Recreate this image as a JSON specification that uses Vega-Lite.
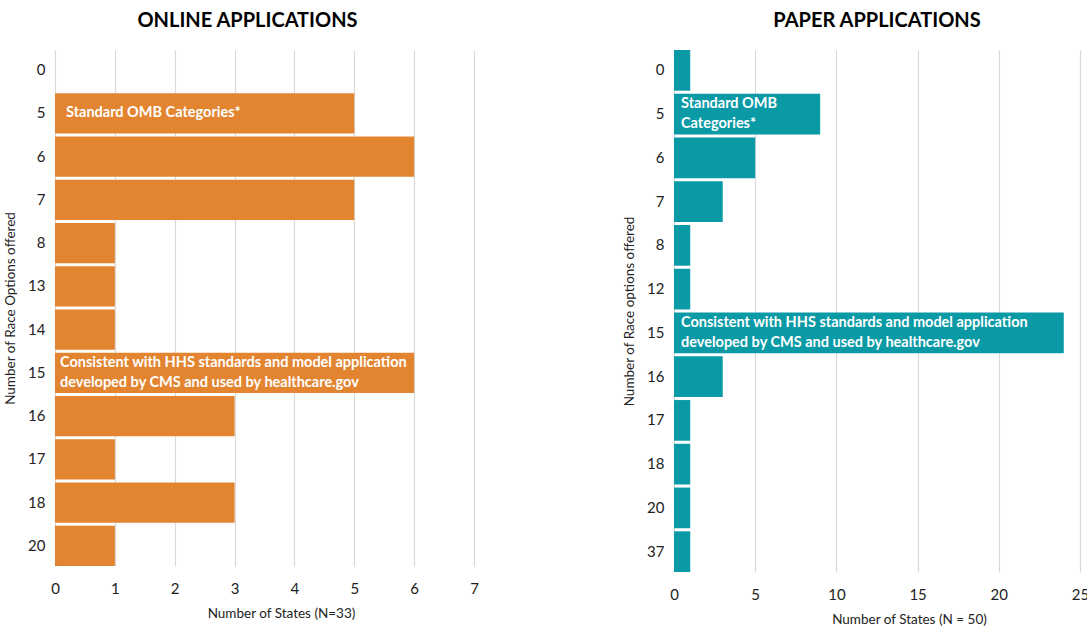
{
  "$schema": "https://vega.github.io/schema/vega-lite/v6.json",
  "background": "white",
  "padding": {"left": 3, "top": 11, "right": 5, "bottom": 5},
  "spacing": 143,
  "config": {
    "font": "Lato",
    "view": {"stroke": null},
    "title": {"font": "Lato", "fontSize": 20, "fontWeight": "bold", "color": "#000000", "offset": 19, "anchor": "middle"},
    "axis": {"labelFont": "Lato", "titleFont": "Lato", "labelColor": "#222222", "titleColor": "#222222", "titleFontWeight": "normal", "labelFlush": false}
  },
  "datasets": {
    "online": [
      {"opt": 0, "states": 0},
      {"opt": 5, "states": 5, "note": "Standard OMB Categories*"},
      {"opt": 6, "states": 6},
      {"opt": 7, "states": 5},
      {"opt": 8, "states": 1},
      {"opt": 13, "states": 1},
      {"opt": 14, "states": 1},
      {"opt": 15, "states": 6, "note": "Consistent with HHS standards and model application\ndeveloped by CMS and used by healthcare.gov"},
      {"opt": 16, "states": 3},
      {"opt": 17, "states": 1},
      {"opt": 18, "states": 3},
      {"opt": 20, "states": 1}
    ],
    "paper": [
      {"opt": 0, "states": 1},
      {"opt": 5, "states": 9, "note": "Standard OMB\nCategories*"},
      {"opt": 6, "states": 5},
      {"opt": 7, "states": 3},
      {"opt": 8, "states": 1},
      {"opt": 12, "states": 1},
      {"opt": 15, "states": 24, "note": "Consistent with HHS standards and model application\ndeveloped by CMS and used by healthcare.gov"},
      {"opt": 16, "states": 3},
      {"opt": 17, "states": 1},
      {"opt": 18, "states": 1},
      {"opt": 20, "states": 1},
      {"opt": 37, "states": 1}
    ]
  },
  "hconcat": [
    {
      "title": {"text": "ONLINE APPLICATIONS", "dx": -17},
      "width": 419,
      "height": 516,
      "data": {"name": "online"},
      "encoding": {
        "y": {"field": "opt", "type": "ordinal", "sort": "ascending",
          "scale": {"paddingInner": 0.07, "paddingOuter": 0},
          "axis": {"title": "Number of Race Options offered", "labelFontSize": 15, "titleFontSize": 13.5, "domain": false, "ticks": false, "labelPadding": 10, "titlePadding": 10, "labelAngle": 0}}
      },
      "layer": [
        {
          "mark": {"type": "bar", "color": "#E38431"},
          "encoding": {
            "x": {"field": "states", "type": "quantitative",
              "scale": {"domain": [0, 7], "nice": false},
              "axis": {"title": "Number of States (N=33)", "titleX": 226, "values": [0,1,2,3,4,5,6,7], "format": "d", "labelFontSize": 15, "titleFontSize": 13.5, "domain": false, "ticks": false, "labelPadding": 15, "titlePadding": 10, "gridColor": "#D9D9D9", "gridWidth": 1.2}}
          }
        },
        {
          "transform": [{"filter": "isValid(datum.note) && indexof(datum.note, '\\n') < 0"}],
          "mark": {"type": "text", "align": "left", "baseline": "middle", "dx": 11, "color": "white", "fontWeight": "bold", "fontSize": 14.5},
          "encoding": {
            "x": {"datum": 0, "type": "quantitative"},
            "text": {"field": "note"}
          }
        },
        {
          "transform": [{"filter": "isValid(datum.note) && indexof(datum.note, '\\n') >= 0"}],
          "mark": {"type": "text", "align": "left", "baseline": "middle", "dx": 5, "dy": -10, "color": "white", "fontWeight": "bold", "fontSize": 14.5, "lineBreak": "\n", "lineHeight": 20},
          "encoding": {
            "x": {"datum": 0, "type": "quantitative"},
            "text": {"field": "note"}
          }
        }
      ]
    },
    {
      "title": "PAPER APPLICATIONS",
      "width": 406,
      "height": 522,
      "data": {"name": "paper"},
      "encoding": {
        "y": {"field": "opt", "type": "ordinal", "sort": "ascending",
          "scale": {"paddingInner": 0.07, "paddingOuter": 0},
          "axis": {"title": "Number of Race options offered", "labelFontSize": 15, "titleFontSize": 13.5, "domain": false, "ticks": false, "labelPadding": 10, "titlePadding": 10, "labelAngle": 0}}
      },
      "layer": [
        {
          "mark": {"type": "bar", "color": "#0A9AA6"},
          "encoding": {
            "x": {"field": "states", "type": "quantitative",
              "scale": {"domain": [0, 25], "nice": false},
              "axis": {"title": "Number of States (N = 50)", "titleX": 235, "values": [0,5,10,15,20,25], "format": "d", "labelFontSize": 15, "titleFontSize": 13.5, "domain": false, "ticks": false, "labelPadding": 15, "titlePadding": 10, "gridColor": "#D9D9D9", "gridWidth": 1.2}}
          }
        },
        {
          "transform": [{"filter": "isValid(datum.note)"}],
          "mark": {"type": "text", "align": "left", "baseline": "middle", "dx": 7, "dy": -10, "color": "white", "fontWeight": "bold", "fontSize": 14.5, "lineBreak": "\n", "lineHeight": 20},
          "encoding": {
            "x": {"datum": 0, "type": "quantitative"},
            "text": {"field": "note"}
          }
        }
      ]
    }
  ]
}
